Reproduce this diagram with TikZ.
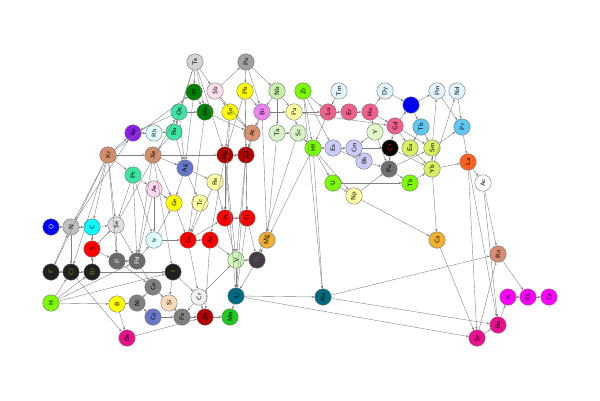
\documentclass[tikz,border=0pt]{standalone}
\usetikzlibrary{arrows.meta}
\begin{document}
\begin{tikzpicture}[x=1pt,y=-1pt,
  el/.style={circle,draw=black!55,line width=0.4pt,minimum size=16.5pt,inner sep=0pt,
    rotate=90,font=\sffamily\fontsize{6.5}{7}\selectfont},
  ed/.style={draw=black!50,line width=0.38pt,-{Stealth[length=2.8pt,width=2.3pt]}}]
\useasboundingbox (0,0) rectangle (600,400);
% colours
\definecolor{cTe}{HTML}{D3D3D3}\definecolor{cPo}{HTML}{A0A0A0}
\definecolor{cW}{HTML}{008000}\definecolor{cSb}{HTML}{FBDDEE}
\definecolor{cYe}{HTML}{FFFF00}\definecolor{cNb}{HTML}{C8F0A8}
\definecolor{cLime}{HTML}{7CFC00}\definecolor{cPale}{HTML}{E1F3FC}
\definecolor{cBlue}{HTML}{0000FF}\definecolor{cTeal}{HTML}{3CE5A0}
\definecolor{cLy}{HTML}{FFFFA0}\definecolor{cRose}{HTML}{F0608C}
\definecolor{cAu}{HTML}{8A1EE8}\definecolor{cCyanL}{HTML}{E0FFFF}
\definecolor{cAt}{HTML}{DD9070}\definecolor{cLg}{HTML}{D6F2C6}
\definecolor{cSky}{HTML}{60C8F0}\definecolor{cY}{HTML}{E2F8C8}
\definecolor{cKr}{HTML}{D48F6A}\definecolor{cDr}{HTML}{B00000}
\definecolor{cLav}{HTML}{CCCCF8}\definecolor{cYg}{HTML}{D8F060}
\definecolor{cLa}{HTML}{FF5F1F}\definecolor{cSl}{HTML}{6878C8}
\definecolor{cPu}{HTML}{707070}\definecolor{cAs}{HTML}{FFD8F0}
\definecolor{cN}{HTML}{C0C0C0}\definecolor{cC}{HTML}{00FFFF}
\definecolor{cSe}{HTML}{E0E0E0}\definecolor{cRed}{HTML}{FF0000}
\definecolor{cOr}{HTML}{F0B030}\definecolor{cP}{HTML}{6A6A6A}
\definecolor{cV}{HTML}{D0F8B8}\definecolor{cTi}{HTML}{404040}
\definecolor{cRn}{HTML}{D88C70}\definecolor{cHal}{HTML}{202020}
\definecolor{cGr}{HTML}{808080}\definecolor{cCr}{HTML}{F0F0F0}
\definecolor{cLi}{HTML}{006B80}\definecolor{cMag}{HTML}{FF00FF}
\definecolor{cSi}{HTML}{FFDAB9}\definecolor{cMn}{HTML}{20C820}
\definecolor{cBa}{HTML}{E8108C}\definecolor{cHalT}{HTML}{6A9A00}
\definecolor{cTiT}{HTML}{9050A0}\definecolor{cCeT}{HTML}{00008B}
\definecolor{cBi}{HTML}{EE82EE}
% nodes
\node[el,fill=cTe] (Te) at (195,62) {Te};
\node[el,fill=cPo] (Po) at (246,62) {Po};
\node[el,fill=cW] (W) at (194,92) {W};
\node[el,fill=cSb] (Sb) at (215,91) {Sb};
\node[el,fill=cYe] (Pb) at (245,91) {Pb};
\node[el,fill=cNb] (Nb) at (277,91) {Nb};
\node[el,fill=cLime] (Zr) at (303,91) {Zr};
\node[el,fill=cPale] (Tm) at (339,91) {Tm};
\node[el,fill=cPale] (Dy) at (385,91) {Dy};
\node[el,fill=cPale] (Pm) at (437,91) {Pm};
\node[el,fill=cPale] (Nd) at (457,91) {Nd};
\node[el,fill=cBlue,text=cCeT] (Ce) at (411,105) {Ce};
\node[el,fill=cTeal] (Os) at (179,112) {Os};
\node[el,fill=cW] (Mo) at (205,112) {Mo};
\node[el,fill=cYe] (Sn) at (230,112) {Sn};
\node[el,fill=cBi] (Bi) at (262,112) {Bi};
\node[el,fill=cLy] (Pa) at (294,112) {Pa};
\node[el,fill=cRose] (Lu) at (328,112) {Lu};
\node[el,fill=cRose] (Er) at (349,112) {Er};
\node[el,fill=cRose] (Ho) at (370,112) {Ho};
\node[el,fill=cAu] (Au) at (133,133) {Au};
\node[el,fill=cCyanL] (Rh) at (154,133) {Rh};
\node[el,fill=cTeal] (Ru) at (174,132) {Ru};
\node[el,fill=cAt] (At) at (252,133) {At};
\node[el,fill=cLg] (Ta) at (277,133) {Ta};
\node[el,fill=cLg] (Sc) at (298,133) {Sc};
\node[el,fill=cRose] (Gd) at (395,126) {Gd};
\node[el,fill=cSky] (Tb) at (421,127) {Tb};
\node[el,fill=cSky] (Pr) at (462,127) {Pr};
\node[el,fill=cY] (Y) at (375,132) {Y};
\node[el,fill=cKr] (Kr) at (108,155) {Kr};
\node[el,fill=cKr] (Xe) at (153,155) {Xe};
\node[el,fill=cDr] (Hg) at (225,155) {Hg};
\node[el,fill=cDr] (Cd) at (246,155) {Cd};
\node[el,fill=cLime] (Hf) at (313,148) {Hf};
\node[el,fill=cLav] (Es) at (333,148) {Es};
\node[el,fill=cLav] (Cm) at (354,148) {Cm};
\node[el,fill=black,text=red] (Cf) at (390,148) {Cf};
\node[el,fill=cYg] (Eu) at (410,148) {Eu};
\node[el,fill=cYg] (Sm) at (432,148) {Sm};
\node[el,fill=cLa] (La) at (468,162) {La};
\node[el,fill=cSl] (Ag) at (185,168) {Ag};
\node[el,fill=cLav] (Bk) at (364,161) {Bk};
\node[el,fill=cPu] (Pu) at (389,169) {Pu};
\node[el,fill=cTeal] (Pt) at (133,175) {Pt};
\node[el,fill=cLy] (Re) at (215,182) {Re};
\node[el,fill=cAs] (As) at (154,189) {As};
\node[el,fill=cYg] (Yb) at (432,169) {Yb};
\node[el,fill=white] (Ac) at (483,183) {Ac};
\node[el,fill=cLime] (U) at (333,183) {U};
\node[el,fill=cLime] (Th) at (410,183) {Th};
\node[el,fill=cLy] (Np) at (354,196) {Np};
\node[el,fill=cYe] (Ge) at (174,203) {Ge};
\node[el,fill=cLy] (Tc) at (200,203) {Tc};
\node[el,fill=cBlue,text=white] (O) at (51,227) {O};
\node[el,fill=cN] (N) at (71,227) {N};
\node[el,fill=cC] (C) at (92,227) {C};
\node[el,fill=cSe] (Se) at (116,225) {Se};
\node[el,fill=cRed] (In) at (225,218) {In};
\node[el,fill=cRed] (Tl) at (247,218) {Tl};
\node[el,fill=cCyanL] (Ir) at (154,240) {Ir};
\node[el,fill=cRed] (S) at (92,249) {S};
\node[el,fill=cRed] (Ga) at (188,240) {Ga};
\node[el,fill=cRed] (Al) at (210,240) {Al};
\node[el,fill=cOr] (Mg) at (267,240) {Mg};
\node[el,fill=cOr] (Ca) at (437,240) {Ca};
\node[el,fill=cP,text=white] (P) at (117,261) {P};
\node[el,fill=cP,text=white] (Pd) at (137,261) {Pd};
\node[el,fill=cV] (V) at (236,260) {V};
\node[el,fill=cTi,text=cTiT] (Ti) at (257,260) {Ti};
\node[el,fill=cRn] (Rn) at (498,254) {Rn};
\node[el,fill=cHal,text=cHalT] (F) at (51,272) {F};
\node[el,fill=cHal,text=cHalT] (Cl) at (71,272) {Cl};
\node[el,fill=cHal,text=cHalT] (Br) at (92,272) {Br};
\node[el,fill=cHal,text=cHalT] (I) at (173,272) {I};
\node[el,fill=cGr] (Co) at (153,287) {Co};
\node[el,fill=cCr] (Cr) at (199,297) {Cr};
\node[el,fill=cLi] (Li) at (236,296) {Li};
\node[el,fill=cLi] (Na) at (323,297) {Na};
\node[el,fill=cMag] (K) at (508,297) {K};
\node[el,fill=cMag] (Rb) at (528,297) {Rb};
\node[el,fill=cMag] (Cs) at (549,297) {Cs};
\node[el,fill=cLime] (H) at (51,303) {H};
\node[el,fill=cYe] (B) at (117,304) {B};
\node[el,fill=cGr] (Ni) at (137,303) {Ni};
\node[el,fill=cSi] (Si) at (169,303) {Si};
\node[el,fill=cSl] (Cu) at (153,317) {Cu};
\node[el,fill=cGr] (Fe) at (182,317) {Fe};
\node[el,fill=cDr] (Zn) at (205,317) {Zn};
\node[el,fill=cMn] (Mn) at (230,317) {Mn};
\node[el,fill=cBa] (Ba) at (498,325) {Ba};
\node[el,fill=cBa] (Sr) at (477,338) {Sr};
\node[el,fill=cBa] (Be) at (127,338) {Be};
% edges
\foreach \a/\b in {O/N,N/C,C/Se,C/S,N/Cl,F/N,F/Cl,Cl/Br,Br/S,S/Se,S/P,Se/Pd,Se/P,P/Pd,Br/I,
  H/B,H/Br,H/Cl,H/Pd,H/I,B/Be,Cl/Be,B/Ni,Ni/Cu,Co/Ni,Pd/Co,P/Co,Pd/Ir,Ir/Ge,Ir/Ga,Co/Si,Si/Fe,
  Cu/Fe,Fe/Zn,Zn/Mn,Cr/Zn,Cr/Fe,Be/Zn,I/Cr,I/Si,Kr/N,Kr/C,Kr/Se,Kr/F,Kr/Cl,Kr/P,Pt/Pd,As/Pd,
  As/Ir,Pt/Ir,Pt/Se,Xe/I,Xe/Pd,Ag/Tc,Ag/Ge,Ag/Re,Re/In,Re/Ga,Tc/Ga,Ge/Ga,As/Ge,Ga/Al,Ga/In,
  In/Tl,In/V,Al/V,Al/Zn,Ga/Cr,Tl/Ti,V/Ti,Mg/Ti,V/Li,Ti/Li,Tl/Li,Li/Mn,Cr/V,Hg/In,Cd/Tl,Hg/Al,
  Cd/V,Sn/In,Pb/Tl,Mo/Ga,W/Ag,Te/Ru,Os/Ag,Ru/Ag,Os/Ru,Ru/Rh,Rh/Au,Kr/Au,Kr/Xe,Kr/Pt,Xe/Ag,
  Xe/Hg,Ru/Xe,Pt/As,Os/Au,Hg/Cd,At/Cd,Bi/Cd,Bi/Mg,Ta/Mg,Hf/Mg,Sc/Ti,Li/Na,Li/Sr,Na/Rn,Na/Ba,
  Hf/Na,Zr/Na,Te/W,Te/Sb,Te/Os,Sb/Po,Po/Nb,Po/Bi,Sb/Sn,Sb/At,W/Mo,Os/Mo,Mo/At,Sn/At,Sn/Hg,
  Bi/At,Pb/Bi,Pb/Cd,Nb/Ta,Nb/Bi,Nb/Pa,Bi/Pa,Pa/Sc,Ta/Sc,Pa/Lu,Pa/Gd,Zr/Lu,Zr/Hf,Zr/Es,Sc/Hf,
  Tm/Lu,Lu/Er,Er/Ho,Ho/Dy,Lu/Hf,Hf/Es,Es/Cm,Cm/Bk,Es/Bk,Y/Ho,Y/Cm,Dy/Ce,Ho/Gd,Gd/Ce,Gd/Cf,
  Gd/Eu,Gd/Sm,Y/Pu,Cm/Cf,Bk/Pu,Cf/Pu,Ce/Pm,Ce/Tb,Tb/Sm,Tb/Eu,Eu/Yb,Sm/Yb,Sm/Pr,Sm/Pm,Yb/Nd,
  Nd/Pr,Pm/Pr,Pr/La,Yb/La,La/Ac,Cf/Yb,Pu/Sm,Th/Yb,Pu/Th,U/Th,U/Np,Hf/U,Hf/Np,Np/Pu,Np/Ca,
  Yb/Ca,Ca/Sr,La/Sr,La/Ba,Ac/Rn,Ac/Ba,Sr/Rn,Sr/Ba,Ba/K,K/Rb,Rb/Cs,Rn/Rb,Te/Hg,Se/Os,N/Au,
  Kr/W,Po/Pb,Pb/Hg,Te/Mo,Hg/V,Cd/Li,Xe/Ge,Hg/Li}
  \draw[ed] (\a) -- (\b);
\end{tikzpicture}
\end{document}
